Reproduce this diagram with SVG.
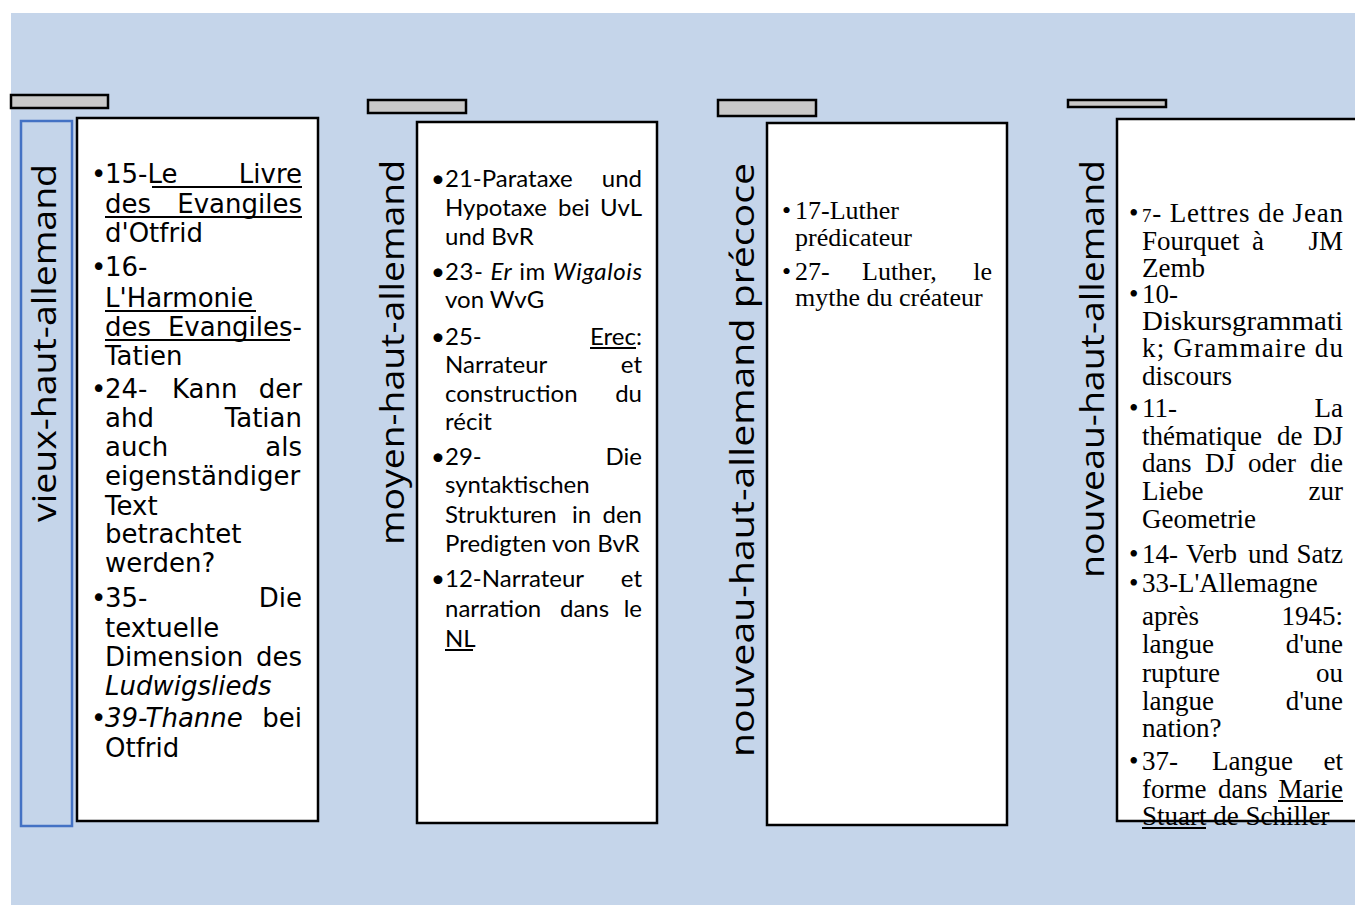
<svg xmlns="http://www.w3.org/2000/svg" width="1355" height="905" viewBox="0 0 1355 905">
<style>
.bg{fill:#C5D5EA}
.bar{fill:#C9C9C9;stroke:#000;stroke-width:2.5}
.box{fill:#fff;stroke:#000;stroke-width:2.5}
.lab{font-family:"Open Sans",Lato,sans-serif;font-weight:400;font-size:33px;fill:#000}
.c1{font-family:"DejaVu Sans",Verdana,sans-serif;font-size:26px;fill:#000}
.c2{font-family:Lato,"Open Sans",sans-serif;font-size:24px;fill:#000}
.c3{font-family:"Liberation Serif","Times New Roman",serif;font-size:26px;fill:#000}
.c4{font-family:"Liberation Serif","Times New Roman",serif;font-size:27px;fill:#000}
.e{text-anchor:end}
.i{font-style:italic}
.ul{stroke:#000;stroke-width:2}
</style>
<rect class="bg" x="11" y="13" width="1344" height="892"/>

<g id="col1">
<rect class="bar" x="11" y="95" width="97" height="13"/>
<rect x="21" y="121" width="51" height="705" fill="none" stroke="#4472C4" stroke-width="2.5"/>
<text class="lab" transform="translate(56,522) rotate(-90)" textLength="358" lengthAdjust="spacingAndGlyphs">vieux-haut-allemand</text>
<rect class="box" x="77" y="118" width="241" height="703"/>
<g class="c1">
<text x="91" y="183">•</text><text x="105" y="183">15-Le</text><text class="e" x="302" y="183">Livre</text>
<text x="105" y="213">des</text><text class="e" x="302" y="213">Evangiles</text>
<text x="105" y="242">d'Otfrid</text>
<text x="91" y="276">•</text><text x="105" y="276">16-</text>
<text x="105" y="307">L'Harmonie</text>
<text x="105" y="336">des</text><text class="e" x="302" y="336">Evangiles-</text>
<text x="105" y="365">Tatien</text>
<text x="91" y="398">•</text><text x="105" y="398">24-</text><text x="172" y="398">Kann</text><text class="e" x="302" y="398">der</text>
<text x="105" y="427">ahd</text><text class="e" x="302" y="427">Tatian</text>
<text x="105" y="456">auch</text><text class="e" x="302" y="456">als</text>
<text x="105" y="485">eigenständiger</text>
<text x="105" y="515">Text</text>
<text x="105" y="543">betrachtet</text>
<text x="105" y="572">werden?</text>
<text x="91" y="607">•</text><text x="105" y="607">35-</text><text class="e" x="302" y="607">Die</text>
<text x="105" y="637">textuelle</text>
<text x="105" y="666">Dimension</text><text class="e" x="302" y="666">des</text>
<text x="105" y="695" class="i">Ludwigslieds</text>
<text x="91" y="727">•</text><text x="105" y="727" class="i">39-Thanne</text><text class="e" x="302" y="727">bei</text>
<text x="105" y="757">Otfrid</text>
</g>
<line class="ul" x1="152" y1="187" x2="302" y2="187"/>
<line class="ul" x1="105" y1="217" x2="302" y2="217"/>
<line class="ul" x1="105" y1="311" x2="256" y2="311"/>
<line class="ul" x1="105" y1="340" x2="290" y2="340"/>
</g>

<g id="col2">
<rect class="bar" x="368" y="100" width="98" height="13"/>
<text class="lab" transform="translate(404,545) rotate(-90)" textLength="385" lengthAdjust="spacingAndGlyphs">moyen-haut-allemand</text>
<rect class="box" x="417" y="122" width="240" height="701"/>
<g class="c2">
<text x="431" y="187">•</text><text x="445" y="187">21-Parataxe</text><text class="e" x="642" y="187">und</text>
<text x="445" y="216">Hypotaxe</text><text x="558" y="216">bei</text><text class="e" x="642" y="216">UvL</text>
<text x="445" y="245">und BvR</text>
<text x="431" y="280">•</text><text x="445" y="280" textLength="197" lengthAdjust="spacing">23- <tspan class="i">Er</tspan> im <tspan class="i">Wigalois</tspan></text>
<text x="445" y="308">von WvG</text>
<text x="431" y="345">•</text><text x="445" y="345">25-</text><text class="e" x="642" y="345">Erec:</text>
<text x="445" y="373">Narrateur</text><text class="e" x="642" y="373">et</text>
<text x="445" y="402">construction</text><text class="e" x="642" y="402">du</text>
<text x="445" y="430">récit</text>
<text x="431" y="465">•</text><text x="445" y="465">29-</text><text class="e" x="642" y="465">Die</text>
<text x="445" y="493">syntaktischen</text>
<text x="445" y="523">Strukturen</text><text x="572" y="523">in</text><text class="e" x="642" y="523">den</text>
<text x="445" y="552">Predigten von BvR</text>
<text x="431" y="587">•</text><text x="445" y="587">12-Narrateur</text><text class="e" x="642" y="587">et</text>
<text x="445" y="617">narration</text><text x="560" y="617">dans</text><text class="e" x="642" y="617">le</text>
<text x="445" y="647">NL</text>
</g>
<line class="ul" x1="590" y1="348" x2="636" y2="348"/>
<line class="ul" x1="445" y1="650" x2="473" y2="650"/>
</g>

<g id="col3">
<rect class="bar" x="718" y="100" width="98" height="16"/>
<text class="lab" transform="translate(754,757) rotate(-90)" textLength="594" lengthAdjust="spacingAndGlyphs">nouveau-haut-allemand précoce</text>
<rect class="box" x="767" y="123" width="240" height="702"/>
<g class="c3">
<text x="782" y="219">•</text><text x="795" y="219">17-Luther</text>
<text x="795" y="246">prédicateur</text>
<text x="782" y="280">•</text><text x="795" y="280">27-</text><text x="862" y="280">Luther,</text><text class="e" x="992" y="280">le</text>
<text x="795" y="306">mythe du créateur</text>
</g>
</g>

<g id="col4">
<rect class="bar" x="1068" y="100" width="98" height="7"/>
<text class="lab" transform="translate(1104,578) rotate(-90)" textLength="418" lengthAdjust="spacingAndGlyphs">nouveau-haut-allemand</text>
<path class="box" d="M1356,119 H1117 V821 H1356"/>
<g class="c4">
<text x="1129" y="222">•</text><text x="1142" y="222" textLength="201" lengthAdjust="spacing"><tspan font-size="19">7</tspan>- Lettres de Jean</text>
<text x="1142" y="250">Fourquet</text><text x="1252" y="250">à</text><text class="e" x="1343" y="250">JM</text>
<text x="1142" y="277">Zemb</text>
<text x="1129" y="303">•</text><text x="1142" y="303">10-</text>
<text x="1142" y="330" textLength="201" lengthAdjust="spacingAndGlyphs">Diskursgrammati</text>
<text x="1142" y="357" textLength="201" lengthAdjust="spacing">k; Grammaire du</text>
<text x="1142" y="385">discours</text>
<text x="1129" y="417">•</text><text x="1142" y="417">11-</text><text class="e" x="1343" y="417">La</text>
<text x="1142" y="445">thématique</text><text x="1277" y="445">de</text><text class="e" x="1343" y="445">DJ</text>
<text x="1142" y="472">dans</text><text x="1205" y="472">DJ</text><text x="1248" y="472">oder</text><text class="e" x="1343" y="472">die</text>
<text x="1142" y="500">Liebe</text><text class="e" x="1343" y="500">zur</text>
<text x="1142" y="528">Geometrie</text>
<text x="1129" y="563">•</text><text x="1142" y="563">14-</text><text x="1186" y="563">Verb</text><text x="1248" y="563">und</text><text class="e" x="1343" y="563">Satz</text>
<text x="1129" y="592">•</text><text x="1142" y="592">33-L'Allemagne</text>
<text x="1142" y="625">après</text><text class="e" x="1343" y="625">1945:</text>
<text x="1142" y="653">langue</text><text class="e" x="1343" y="653">d'une</text>
<text x="1142" y="682">rupture</text><text class="e" x="1343" y="682">ou</text>
<text x="1142" y="710">langue</text><text class="e" x="1343" y="710">d'une</text>
<text x="1142" y="737">nation?</text>
<text x="1129" y="770">•</text><text x="1142" y="770">37-</text><text x="1212" y="770">Langue</text><text class="e" x="1343" y="770">et</text>
<text x="1142" y="798">forme</text><text x="1218" y="798">dans</text><text class="e" x="1343" y="798">Marie</text>
<text x="1142" y="825">Stuart de Schiller</text>
</g>
<line class="ul" x1="1278" y1="801" x2="1343" y2="801"/>
<line class="ul" x1="1142" y1="828" x2="1206" y2="828"/>
</g>
</svg>
